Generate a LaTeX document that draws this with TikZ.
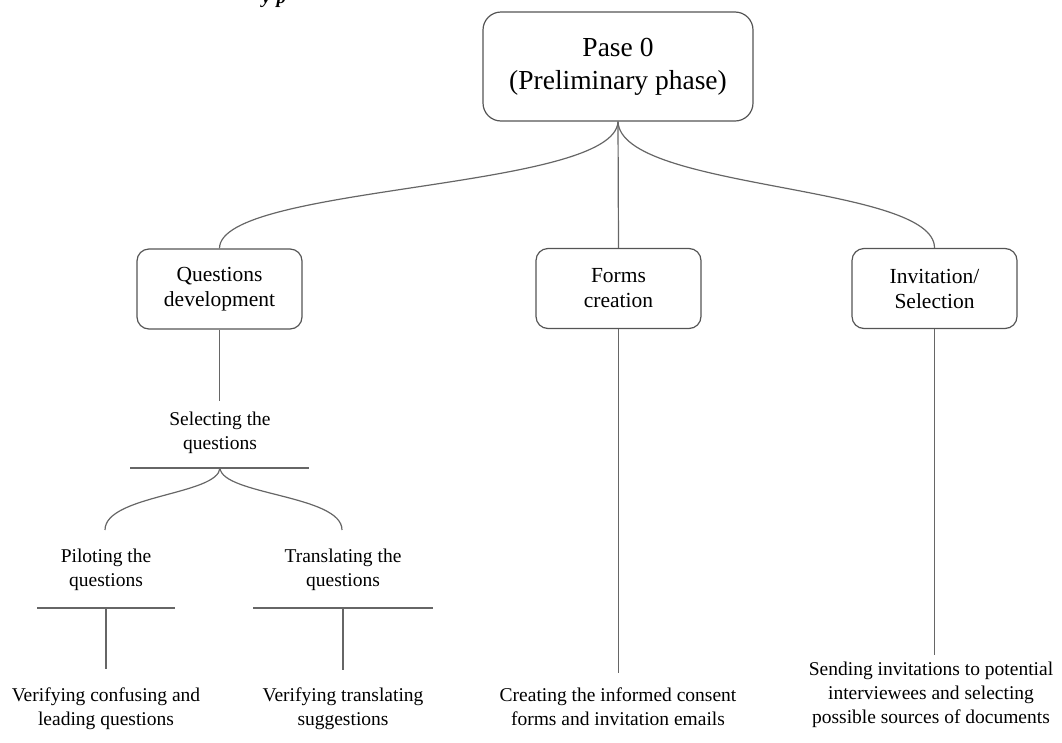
\documentclass[tikz,border=0pt]{standalone}
\usepackage{fontspec}
\setmainfont{Liberation Serif}
\definecolor{linegray}{HTML}{666666}
\definecolor{boxgray}{HTML}{555555}
\begin{document}
\begin{tikzpicture}[x=1pt,y=-1pt,
  conn/.style={draw=linegray, line width=1.2pt},
  bigbox/.style={draw=boxgray, line width=1.2pt, rounded corners=18pt, minimum width=270pt, minimum height=109pt, align=center, font=\fontsize{27.5}{33}\selectfont, inner sep=0pt},
  phasebox/.style={draw=boxgray, line width=1.2pt, rounded corners=12pt, minimum width=165pt, minimum height=80pt, align=center, font=\fontsize{21.5}{25}\selectfont, inner sep=0pt},
  lbl/.style={align=center, font=\fontsize{19.5}{24}\selectfont, inner sep=0pt}]
\useasboundingbox (0,0) rectangle (1062,742);

% clipped fragment of a caption above the picture
\node[anchor=base west, inner sep=0pt, font=\fontsize{19}{23}\selectfont\bfseries\itshape] (frag) at (262,3) {y\hspace{6pt}p};

% boxes
\node[bigbox] (p0) at (618,66.5) {Pase 0\\(Preliminary phase)};
\node[phasebox] (qd) at (219.5,289) {Questions\\development};
\node[phasebox] (fc) at (618.5,288.5) {Forms\\creation};
\node[phasebox] (is) at (934.5,288.5) {Invitation/\\Selection};

% labels
\node[lbl] (sel) at (220,433) {Selecting the\\questions};
\node[lbl] (pil) at (106,570) {Piloting the\\questions};
\node[lbl] (tra) at (343,570) {Translating the\\questions};
\node[lbl] (vcl) at (106,709) {Verifying confusing and\\leading questions};
\node[lbl] (vts) at (343,709) {Verifying translating\\suggestions};
\node[lbl] (cif) at (618,707) {Creating the informed consent\\forms and invitation emails};
\node[lbl] (sis) at (931,695) {Sending invitations to potential\\interviewees and selecting\\possible sources of documents};

% coordinates
\coordinate (qdEnd) at (219.5,401);
\coordinate (selL) at (130,468);
\coordinate (selR) at (309,468);
\coordinate (selM) at (220,468);
\coordinate (pilTop) at (105,530);
\coordinate (traTop) at (342,530);
\coordinate (pilL) at (37,608);
\coordinate (pilR) at (175,608);
\coordinate (pilM) at (106,608);
\coordinate (pilEnd) at (106,669);
\coordinate (traL) at (253,608);
\coordinate (traR) at (433,608);
\coordinate (traM) at (343,608);
\coordinate (traEnd) at (343,670);
\coordinate (fcEnd) at (618.5,673);
\coordinate (isEnd) at (934.5,655);

% connectors from top box
\draw[conn] (p0.south) .. controls +(-3,69) and +(0,-64) .. (qd.north);
\draw[conn] (p0.south) -- (fc.north);
\draw[conn] (p0.south) .. controls +(3,69) and +(0,-64) .. (is.north);

% questions development branch
\draw[conn] (qd.south) -- (qdEnd);
\draw[conn] (selL) -- (selR);
\draw[conn] (selM) .. controls +(-2,27) and +(0,-35) .. (pilTop);
\draw[conn] (selM) .. controls +(2,27) and +(0,-35) .. (traTop);
\draw[conn] (pilL) -- (pilR);
\draw[conn] (pilM) -- (pilEnd);
\draw[conn] (traL) -- (traR);
\draw[conn] (traM) -- (traEnd);

% other branches
\draw[conn] (fc.south) -- (fcEnd);
\draw[conn] (is.south) -- (isEnd);
\end{tikzpicture}
\end{document}
